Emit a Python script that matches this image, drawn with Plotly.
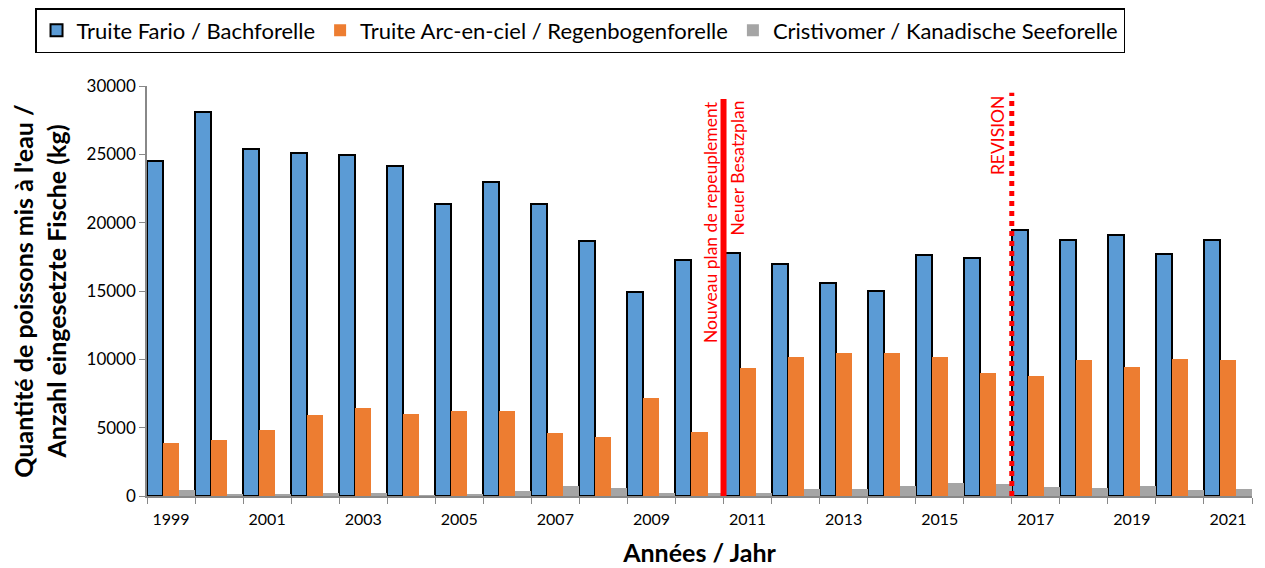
import plotly.graph_objects as go

years = [str(y) for y in range(1999, 2022)]
fario = [24500, 28100, 25400, 25100, 24950, 24150, 21400, 23000, 21400, 18650, 14950, 17300,
         17800, 16950, 15600, 15000, 17600, 17400, 19450, 18750, 19100, 17700, 18750]
arc = [3900, 4100, 4850, 5900, 6450, 6000, 6200, 6250, 4600, 4300, 7200, 4700,
       9350, 10150, 10450, 10450, 10200, 9000, 8750, 9950, 9450, 10000, 9950]
cristi = [450, 100, 100, 250, 250, 50, 100, 350, 700, 550, 250, 250,
          200, 500, 480, 730, 980, 870, 680, 620, 720, 420, 500]
tick_text = [y if int(y) % 2 == 1 else "" for y in years]

names = ["Truite Fario / Bachforelle", "Truite Arc-en-ciel / Regenbogenforelle",
         "Cristivomer / Kanadische Seeforelle"]
FONT = "Lato"

fig = go.Figure()
fig.add_trace(go.Bar(x=years, y=fario, name=names[0], marker=dict(color="#5b9bd5", line=dict(color="black", width=2))))
fig.add_trace(go.Bar(x=years, y=arc, name=names[1], marker=dict(color="#ed7d31", line=dict(width=0))))
fig.add_trace(go.Bar(x=years, y=cristi, name=names[2], marker=dict(color="#a5a5a5", line=dict(width=0))))

x_plan = years.index("2010") + 0.5
x_rev = years.index("2016") + 0.5

fig.add_shape(type="line", xref="x", yref="y", x0=x_plan, x1=x_plan, y0=0, y1=29050,
              line=dict(color="red", width=6))
fig.add_shape(type="line", xref="x", yref="y", x0=x_rev, x1=x_rev, y0=0, y1=29500,
              line=dict(color="red", width=5, dash="dot"))

fig.add_annotation(x=x_plan, y=29050, xref="x", yref="y", text="Nouveau plan de repeuplement",
                   textangle=-90, showarrow=False, xanchor="right", yanchor="top", xshift=0,
                   font=dict(family=FONT, size=17.5, color="red"))
fig.add_annotation(x=x_plan, y=29050, xref="x", yref="y", text="Neuer Besatzplan",
                   textangle=-90, showarrow=False, xanchor="left", yanchor="top", xshift=1,
                   font=dict(family=FONT, size=17.5, color="red"))
fig.add_annotation(x=x_rev, y=29500, xref="x", yref="y", text="REVISION",
                   textangle=-90, showarrow=False, xanchor="right", yanchor="top", xshift=-1,
                   font=dict(family=FONT, size=17.5, color="red"))

fig.update_layout(
    width=1257, height=560,
    margin=dict(l=139, r=13, t=78, b=72, autoexpand=False),
    plot_bgcolor="white", paper_bgcolor="white",
    barmode="group", bargap=0, bargroupgap=0,
    font=dict(family=FONT, color="black"),
    legend=dict(orientation="h", xref="container", yref="container", x=0.0215, y=1.0,
                xanchor="left", yanchor="top", bordercolor="black", borderwidth=1.5,
                font=dict(family=FONT, size=22, color="black"), bgcolor="white",
                itemwidth=30, tracegroupgap=0),
    showlegend=True,
)
fig.update_xaxes(type="category", tickmode="array", tickvals=years, ticktext=tick_text,
                 tickson="boundaries", ticks="outside", ticklen=6, tickcolor="#888",
                 showline=True, linecolor="#888", linewidth=1.5, showgrid=False,
                 ticklabelstandoff=8,
                 tickfont=dict(family=FONT, size=16, color="black"),
                 title=dict(text="<b>Années / Jahr</b>", font=dict(family=FONT, size=25, color="black"), standoff=18))
fig.update_yaxes(range=[0, 30000], dtick=5000, tickformat="d", ticks="outside", ticklen=6, tickcolor="#888",
                 showline=True, linecolor="#888", linewidth=1.5, showgrid=False, zeroline=False,
                 tickfont=dict(family=FONT, size=17, color="black"),
                 title=dict(text="<b>Quantité de poissons mis à l'eau /<br>Anzahl eingesetzte Fische (kg)</b>",
                            font=dict(family=FONT, size=25, color="black"), standoff=16))

fig.write_html("out.html")
